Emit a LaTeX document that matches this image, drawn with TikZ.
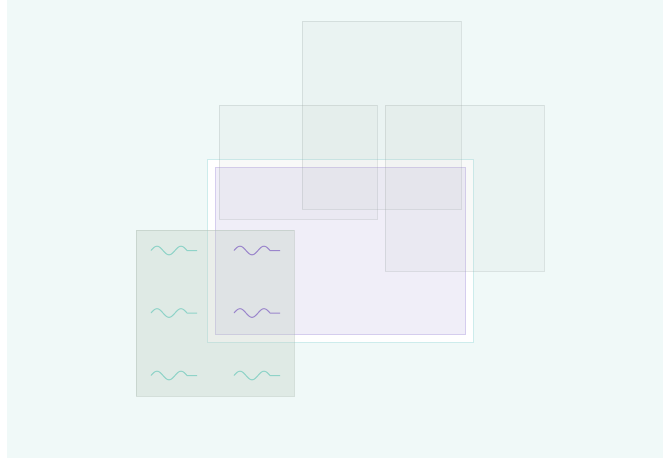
\documentclass[tikz,border=0pt]{standalone}
\definecolor{bgmint}{RGB}{240,249,248}
\definecolor{greyfill}{RGB}{180,190,182}
\definecolor{greydraw}{RGB}{150,160,160}
\definecolor{greenfill}{RGB}{187,202,188}
\definecolor{greendraw}{RGB}{170,185,175}
\definecolor{framedraw}{RGB}{205,236,236}
\definecolor{purplefill}{RGB}{240,238,248}
\definecolor{purpledraw}{RGB}{213,205,238}
\definecolor{tealw}{RGB}{143,211,200}
\definecolor{purplew}{RGB}{155,134,204}
\begin{document}
\begin{tikzpicture}[x=1pt,y=-1pt,
  greyrect/.style={fill=greyfill, fill opacity=0.09, draw=greydraw, draw opacity=0.25, line width=1pt},
  greenrect/.style={fill=greenfill, fill opacity=0.3, draw=greendraw, draw opacity=0.4, line width=1pt},
  framebox/.style={fill=white, draw=framedraw, line width=1pt},
  purplebox/.style={fill=purplefill, draw=purpledraw, line width=1pt},
  tealwave/.style={draw=tealw, line width=1pt},
  purplewave/.style={draw=purplew, line width=1pt},
  wavepic/.pic={\draw[pic actions] plot[domain=0:36, samples=50, smooth] (\x, {-4.3*sin(15*\x)}) -- ++(10,0);}
]
\useasboundingbox (0,0) rectangle (663,461);
\fill[white] (0,0) rectangle (663,461);
\fill[bgmint] (7,0) rectangle (663,458);

\path[framebox] (207,159) rectangle (473,342);
\path[purplebox] (215,167) rectangle (465,334);

\path[greyrect] (302,21) rectangle (461,209);
\path[greyrect] (219,105) rectangle (377,219);
\path[greyrect] (385,105) rectangle (544,271);

\path[greenrect] (136,230) rectangle (294,396);

\pic[tealwave] at (151,250.5) {wavepic};
\pic[tealwave] at (151,313) {wavepic};
\pic[tealwave] at (151,375.5) {wavepic};
\pic[purplewave] at (234,250.5) {wavepic};
\pic[purplewave] at (234,313) {wavepic};
\pic[tealwave] at (234,375.5) {wavepic};
\end{tikzpicture}
\end{document}
